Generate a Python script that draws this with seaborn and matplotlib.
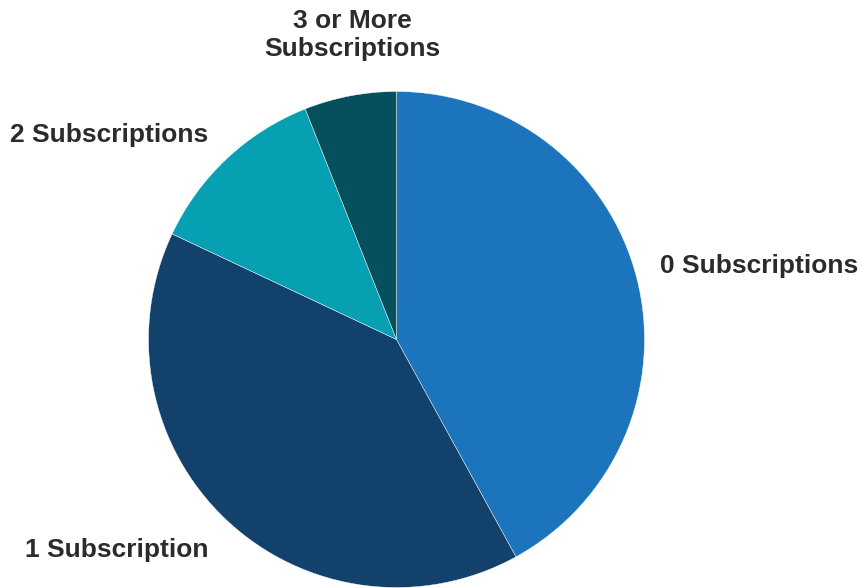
"""
Pie chart: share of households by number of subscriptions.
"""

import matplotlib
matplotlib.use('Agg')
import matplotlib.pyplot as plt
import seaborn as sns

# Data
categories = ['0 Subscriptions', '1 Subscription', '2 Subscriptions', '3 or More\nSubscriptions']
shares = [42, 40, 12, 6]
colors = ['#1C75BC', '#12426C', '#06A0B2', '#06505E']

# Styling
sns.set_theme(style='white')
plt.rcParams['font.family'] = ['Liberation Sans', 'DejaVu Sans']

fig = plt.figure(figsize=(8.59, 5.88), dpi=100)
ax = fig.add_axes([0, 0, 1, 1])

palette = sns.color_palette(colors)
wedges, texts = ax.pie(shares, labels=categories, colors=palette, startangle=90,
                       counterclock=False, radius=1.0,
                       wedgeprops=dict(edgecolor='white', linewidth=0.3),
                       textprops=dict(fontsize=19, fontweight='bold', color='#2b2b2b'))

# Label placement (pixel-based positions converted to data units)
px = 248.0
cx, cy = 396.5, 339.5
label_pos = [(660, 266, 'left'), (25, 550, 'left'), (10, 135, 'left'), (352, 35, 'center')]
for t, (lx, ly, ha) in zip(texts, label_pos):
    t.set_position(((lx - cx) / px, (cy - ly) / px))
    t.set_ha(ha)
    t.set_va('center')
    t.set_multialignment('center')
    t.set_linespacing(1.2)

ax.set_xlim(-cx / px, (859 - cx) / px)
ax.set_ylim(-(588 - cy) / px, cy / px)
ax.set_aspect('equal')
ax.axis('off')

fig.savefig('out.png', dpi=100, facecolor='white')
